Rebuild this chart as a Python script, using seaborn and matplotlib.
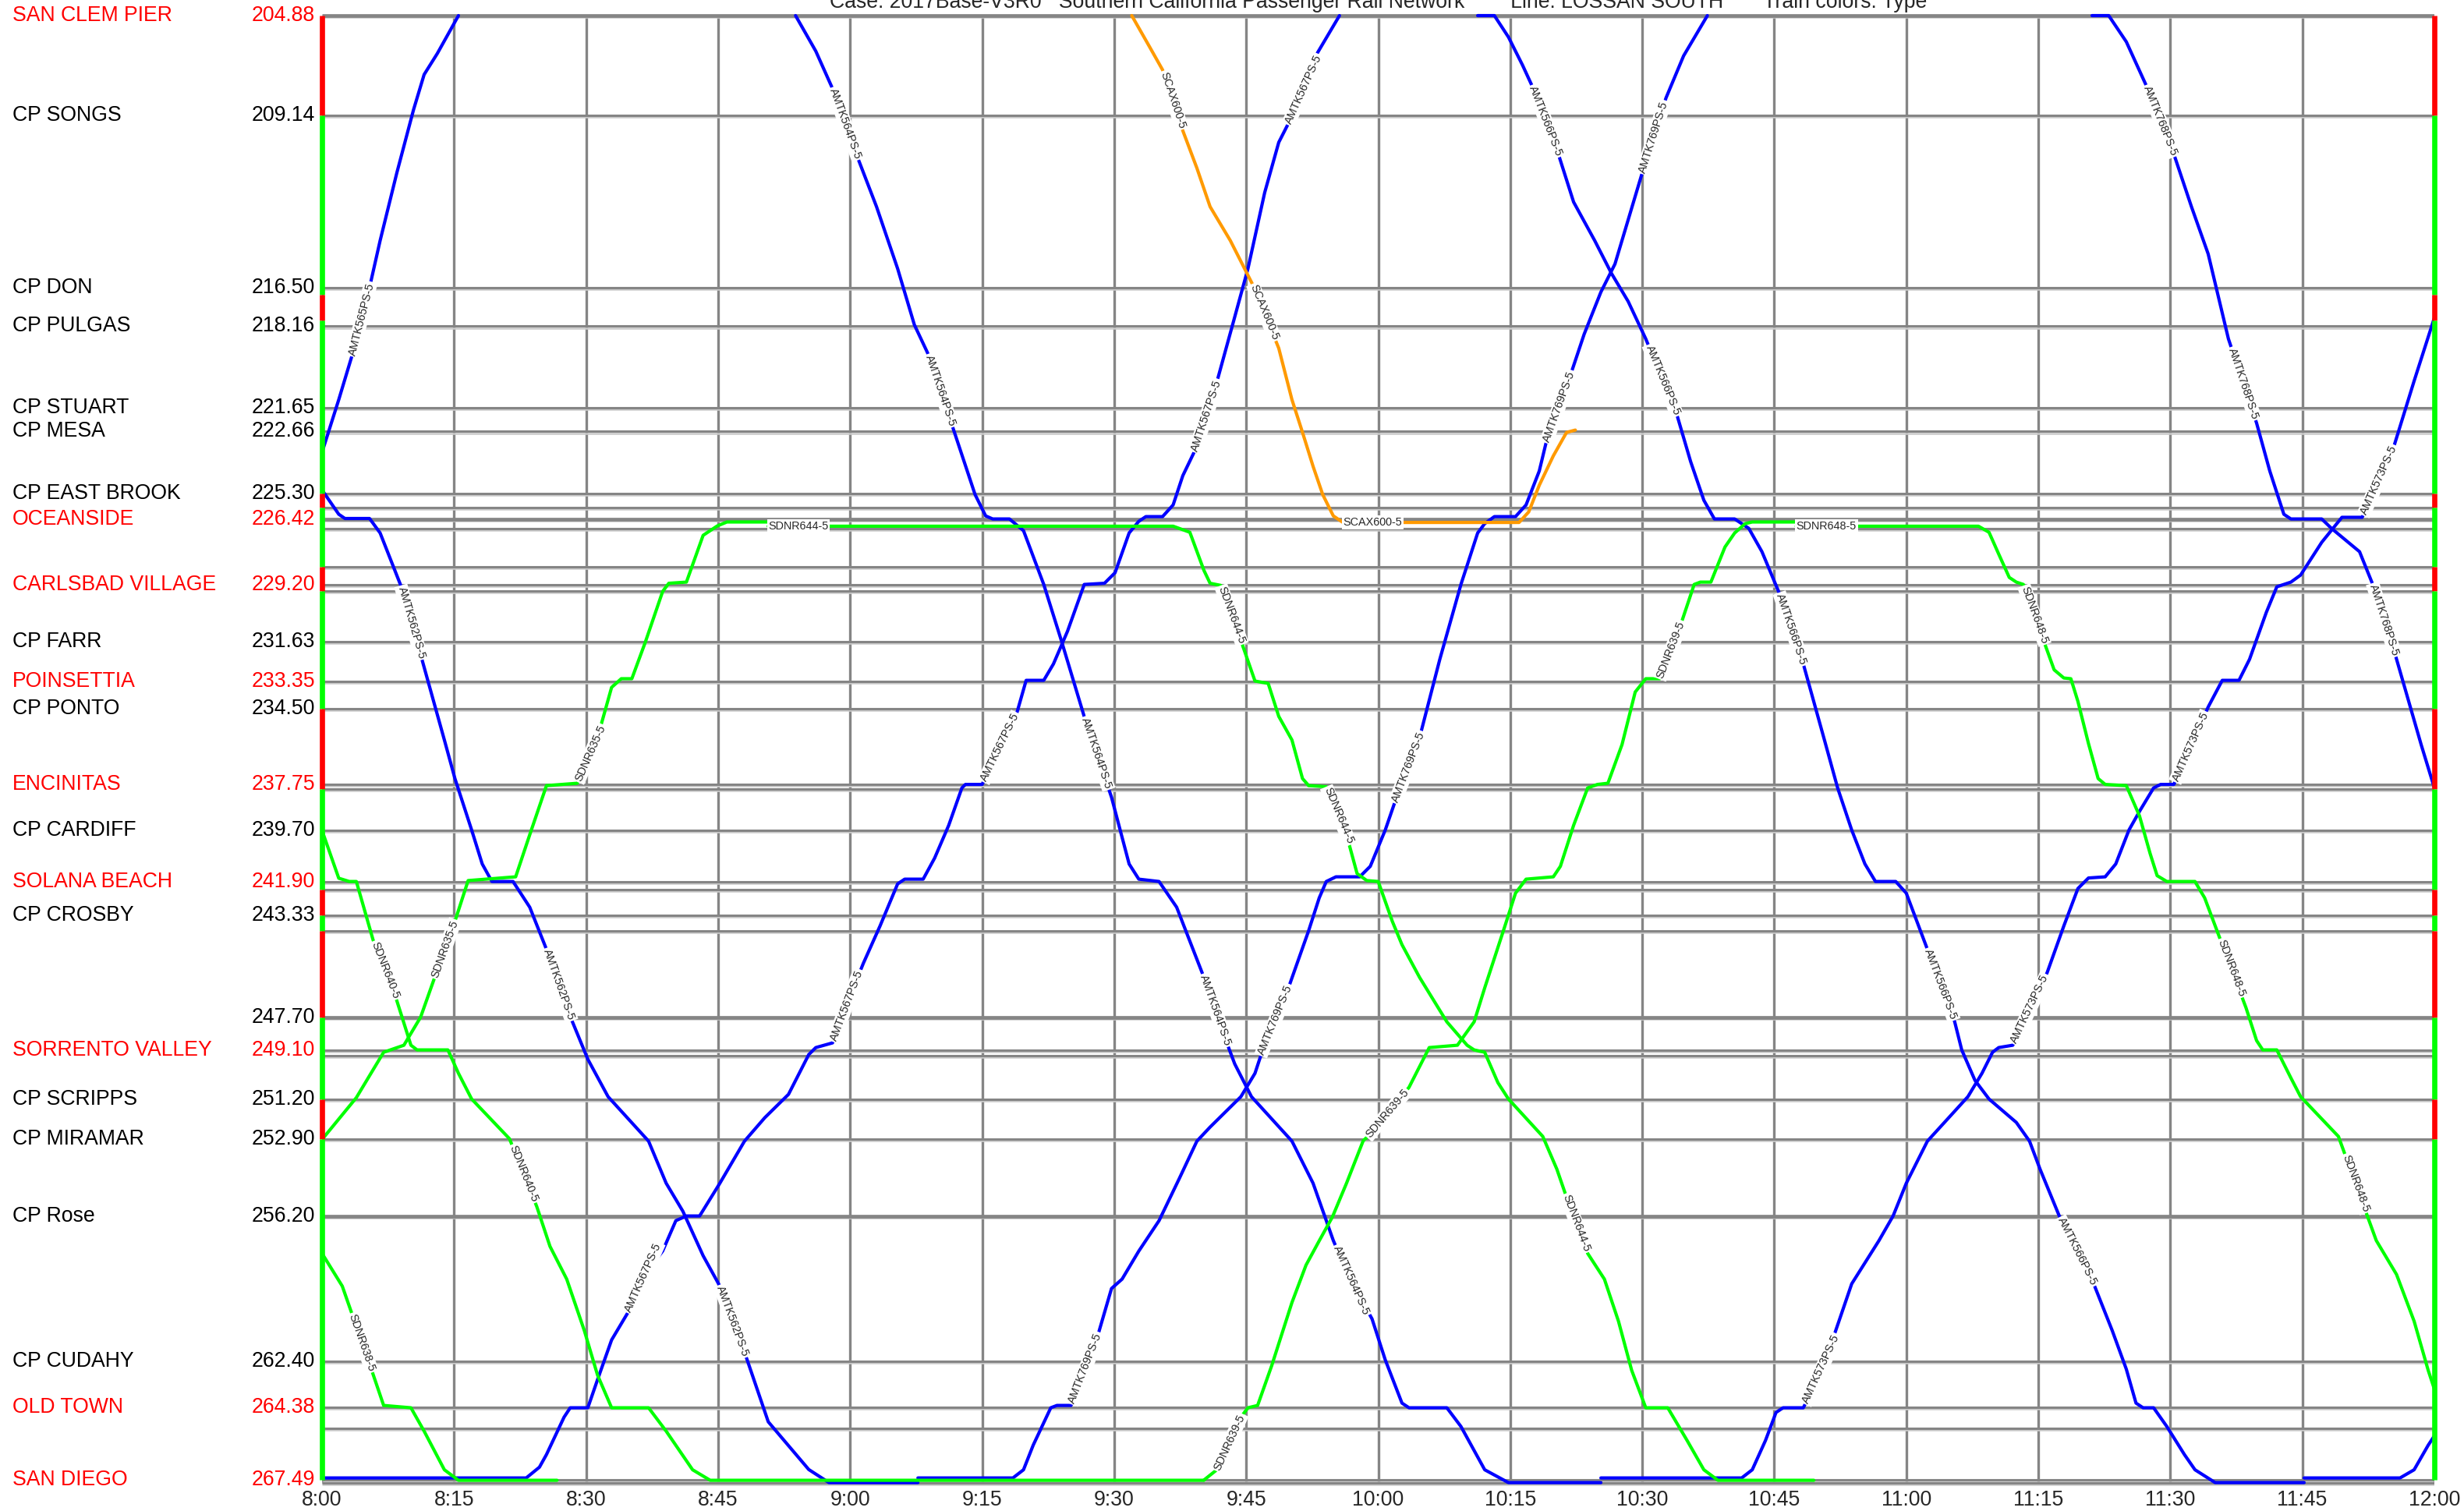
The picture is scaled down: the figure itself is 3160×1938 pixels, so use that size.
import math
import pandas as pd
import matplotlib
matplotlib.use("Agg")
import matplotlib.pyplot as plt
import matplotlib.transforms as mtransforms
import seaborn as sns

# ---------------------------------------------------------------- stations
STATION_NAMES = ["SAN CLEM PIER", "CP SONGS", "CP DON", "CP PULGAS", "CP STUART", "CP MESA",
                 "CP EAST BROOK", "OCEANSIDE", "CARLSBAD VILLAGE", "CP FARR", "POINSETTIA",
                 "CP PONTO", "ENCINITAS", "CP CARDIFF", "SOLANA BEACH", "CP CROSBY", "",
                 "SORRENTO VALLEY", "CP SCRIPPS", "CP MIRAMAR", "CP Rose", "CP CUDAHY",
                 "OLD TOWN", "SAN DIEGO"]
STATION_MP = [204.88, 209.14, 216.50, 218.16, 221.65, 222.66, 225.30, 226.42, 229.20, 231.63,
              233.35, 234.50, 237.75, 239.70, 241.90, 243.33, 247.70, 249.10, 251.20, 252.90,
              256.20, 262.40, 264.38, 267.49]
PASSENGER_STOPS = {"SAN CLEM PIER", "OCEANSIDE", "CARLSBAD VILLAGE", "POINSETTIA", "ENCINITAS",
                   "SOLANA BEACH", "SORRENTO VALLEY", "OLD TOWN", "SAN DIEGO"}
# extra block / siding boundaries drawn as grid lines
BLOCK_MP = [225.90, 226.80, 228.45, 229.48, 237.95, 242.25, 244.00, 249.34, 265.27, 267.60]
HEAVY_MP = [204.88, 226.42, 247.70, 256.20]

# single (red) / double (green) track sections along the line
TRACK_BREAKS = [204.88, 209.14, 216.80, 217.90, 225.30, 225.90, 228.45, 229.48, 234.50,
                237.95, 242.25, 243.33, 244.00, 247.70, 251.20, 252.90, 267.49]
TRACK_KIND = ["single", "double", "single", "double", "single", "double", "single", "double",
              "single", "double", "single", "double", "single", "double", "single", "double"]

# ---------------------------------------------------------------- trains
# times are minutes after 8:00, positions are mileposts
AMTK565_T = [0.0, 1.9, 3.5, 5.4, 6.6, 8.5, 10.4, 11.6, 13.1, 15.5]
AMTK565_MP = [223.55, 221.3, 219.3, 216.5, 214.5, 211.6, 208.9, 207.4, 206.5, 204.88]

AMTK562_T = [0.0, 1.9, 2.6, 5.4, 6.6, 8.9, 11.2, 13.9, 15.1, 17.0, 18.2, 19.3, 21.7, 23.6,
             25.5, 28.2, 30.2, 32.5, 37.1, 39.1, 41.0, 43.3, 45.2, 48.3, 50.7, 55.3, 57.6, 67.7]
AMTK562_MP = [225.16, 226.2, 226.38, 226.38, 227.0, 229.2, 232.2, 235.85, 237.5, 239.7, 241.15,
              241.9, 241.9, 243.0, 244.8, 247.67, 249.5, 251.1, 253.0, 254.8, 256.0, 257.9,
              259.2, 262.35, 265.0, 267.04, 267.6, 267.6]

AMTK567_T = [0.0, 23.2, 24.7, 25.5, 27.5, 28.2, 30.2, 31.3, 32.9, 34.8, 36.7, 38.7, 40.2, 41.4,
             42.9, 45.2, 48.0, 50.3, 53.0, 55.3, 56.1, 58.0, 59.9, 61.5, 63.4, 65.4, 66.2, 68.3,
             69.6, 71.2, 72.7, 73.1, 75.0, 78.9, 80.0, 82.0, 83.1, 84.7, 86.6, 88.9, 90.1, 91.7,
             92.8, 93.6, 95.5, 96.7, 97.8, 99.4, 101.7, 103.6, 105.2, 107.1, 108.7, 111.0,
             112.9, 115.6]
AMTK567_MP = [267.4, 267.4, 266.94, 266.4, 264.8, 264.4, 264.4, 263.2, 261.5, 260.3, 258.7,
              257.7, 256.4, 256.2, 256.2, 254.8, 253.0, 252.0, 251.0, 249.3, 249.0, 248.8,
              246.9, 245.4, 243.8, 242.0, 241.8, 241.8, 240.9, 239.5, 237.9, 237.75, 237.75,
              234.75, 233.3, 233.3, 232.6, 231.2, 229.2, 229.15, 228.7, 227.0, 226.5, 226.3,
              226.3, 225.8, 224.55, 223.3, 220.5, 217.9, 215.7, 212.45, 210.3, 208.6, 206.6,
              204.88]

AMTK564_T = [53.8, 56.1, 58.0, 60.7, 63.0, 65.4, 67.3, 68.8, 71.5, 74.2, 75.4, 76.2, 78.1, 79.7,
             82.0, 84.0, 86.6, 89.7, 91.7, 92.8, 95.1, 97.1, 100.2, 102.9, 103.7, 105.6, 110.2,
             112.6, 114.9, 116.8, 119.3, 120.8, 122.7, 123.5, 127.8, 129.4, 132.1, 134.8, 145.3]
AMTK564_MP = [204.88, 206.4, 208.0, 210.8, 213.05, 215.7, 218.1, 219.3, 222.3, 225.36, 226.27,
              226.4, 226.4, 226.9, 229.2, 231.6, 234.85, 238.3, 241.15, 241.8, 241.9, 243.0,
              246.0, 248.9, 249.7, 251.1, 253.0, 254.8, 257.25, 258.9, 260.6, 262.35, 264.2,
              264.4, 264.4, 265.2, 267.05, 267.6, 267.6]

AMTK769_T = [67.7, 78.5, 79.7, 80.8, 82.8, 83.5, 85.1, 86.2, 87.8, 89.7, 90.9, 92.8, 95.1, 97.4,
             99.4, 100.9, 104.4, 106.0, 106.7, 109.8, 112.1, 113.3, 114.1, 115.2, 117.9, 119.1,
             120.8, 121.9, 124.7, 127.0, 129.4, 131.3, 132.1, 133.2, 135.6, 136.8, 138.3, 139.1,
             141.8, 143.4, 145.3, 146.9, 150.0, 152.7, 154.7, 157.4]
AMTK769_MP = [267.4, 267.4, 267.05, 266.0, 264.4, 264.3, 264.3, 263.2, 261.75, 259.3, 258.9,
              257.7, 256.4, 254.6, 253.0, 252.4, 251.1, 250.1, 249.3, 246.45, 244.0, 242.6,
              241.9, 241.7, 241.7, 241.25, 239.7, 238.5, 235.75, 232.4, 229.2, 227.0, 226.6,
              226.3, 226.3, 225.8, 224.35, 223.1, 220.3, 218.5, 216.7, 215.5, 211.6, 208.4,
              206.6, 204.88]

SCAX600_T = [92.0, 94.0, 95.5, 97.8, 99.4, 100.9, 103.2, 105.9, 108.7, 110.2, 111.4, 112.6,
             113.7, 114.9, 116.0, 136.0, 137.1, 138.3, 139.9, 141.4, 142.4]
SCAX600_MP = [204.88, 206.2, 207.2, 209.8, 211.4, 213.05, 214.5, 216.5, 219.1, 221.3, 222.7,
              224.15, 225.36, 226.27, 226.55, 226.55, 226.1, 224.96, 223.7, 222.7, 222.6]

AMTK566_T = [131.3, 133.2, 134.8, 136.4, 137.5, 140.3, 142.2, 144.6, 146.5, 148.4, 150.4, 153.9,
             155.5, 157.0, 158.2, 160.5, 162.1, 163.6, 165.6, 168.3, 170.7, 172.2, 173.8, 175.3,
             176.5, 178.8, 180.0, 181.6, 185.5, 186.3, 187.8, 189.4, 192.5, 194.0, 195.2, 197.6,
             201.4, 203.4, 205.0, 206.1, 206.9, 208.1, 209.6, 211.6, 212.8, 215.1, 225.2]
AMTK566_MP = [204.88, 204.88, 205.8, 207.0, 207.9, 210.6, 212.85, 214.5, 215.9, 217.1, 218.7,
              221.9, 223.95, 225.6, 226.4, 226.4, 226.8, 227.8, 229.6, 232.6, 235.85, 237.9,
              239.7, 241.15, 241.9, 241.9, 242.4, 244.0, 247.9, 249.1, 250.4, 251.2, 252.2,
              253.0, 254.2, 256.4, 259.2, 261.1, 262.75, 264.2, 264.4, 264.4, 265.2, 266.4,
              267.05, 267.6, 267.6]

AMTK573_T = [145.3, 161.3, 162.5, 164.0, 165.2, 166.0, 168.3, 169.9, 171.8, 173.8, 176.9, 178.5,
             180.0, 182.4, 187.0, 188.6, 189.8, 190.5, 192.1, 196.0, 197.9, 199.5, 200.7, 202.6,
             203.8, 205.3, 206.5, 208.1, 208.9, 210.4, 214.3, 215.9, 217.8, 219.0, 220.9, 222.1,
             223.7, 224.8, 227.2, 228.7, 229.5, 231.8, 235.4, 237.7, 240.0]
AMTK573_MP = [267.4, 267.4, 267.05, 265.8, 264.6, 264.4, 264.4, 263.2, 261.3, 259.1, 257.25,
              256.2, 254.8, 253.0, 251.1, 250.1, 249.2, 249.0, 248.9, 245.8, 243.8, 242.2,
              241.75, 241.7, 241.15, 239.7, 238.9, 237.9, 237.75, 237.75, 234.44, 233.3, 233.3,
              232.4, 230.4, 229.3, 229.1, 228.8, 227.4, 226.7, 226.33, 226.33, 223.3, 220.5,
              217.8]

AMTK768_T = [201.1, 203.0, 205.0, 207.3, 210.4, 212.4, 214.3, 216.6, 219.8, 221.3, 222.9, 223.7,
             227.2, 228.3, 231.5, 233.0, 235.4, 238.5, 240.0]
AMTK768_MP = [204.88, 204.88, 206.0, 207.9, 210.8, 213.05, 215.07, 218.7, 222.3, 224.35, 226.2,
              226.4, 226.4, 226.8, 227.8, 229.2, 232.0, 236.05, 237.9]

AMTK1156_T = [225.2, 236.1, 237.7, 239.3, 240.0]
AMTK1156_MP = [267.4, 267.4, 267.05, 266.0, 265.6]

SDNR640_T = [0.0, 1.9, 3.1, 3.9, 5.8, 8.5, 10.1, 10.8, 14.3, 15.5, 17.0, 21.3, 24.4, 25.9, 27.8,
             29.8, 31.3, 32.9, 37.1, 39.1, 42.1, 44.1, 100.2]
SDNR640_MP = [239.72, 241.76, 241.9, 241.9, 244.4, 247.0, 248.9, 249.1, 249.1, 250.1, 251.2,
              252.9, 255.8, 257.5, 258.9, 261.1, 263.0, 264.4, 264.4, 265.4, 267.05, 267.5, 267.5]

SDNR638_T = [0.0, 2.3, 5.8, 7.0, 10.1, 11.6, 13.9, 15.5, 26.7]
SDNR638_MP = [257.8, 259.2, 262.97, 264.3, 264.4, 265.4, 267.05, 267.5, 267.5]

SDNR635_T = [0.0, 3.9, 7.0, 9.3, 11.2, 12.8, 15.1, 16.6, 22.0, 23.6, 25.5, 29.0, 31.3, 32.9,
             34.0, 35.2, 36.7, 38.7, 39.4, 41.4, 43.3, 44.9, 46.0, 50.7]
SDNR635_MP = [252.93, 251.14, 249.2, 248.9, 247.7, 246.0, 243.6, 241.86, 241.7, 239.9, 237.8,
              237.7, 235.75, 233.6, 233.23, 233.23, 231.7, 229.5, 229.15, 229.1, 227.1, 226.7,
              226.53, 226.53]

SDNR644_T = [50.7, 96.7, 98.6, 100.2, 100.9, 102.1, 104.4, 106.0, 107.5, 108.7, 110.2, 111.4,
             112.1, 114.1, 116.4, 117.6, 118.7, 120.0, 121.6, 122.7, 124.7, 127.8, 130.1, 130.9,
             132.1, 133.6, 134.8, 138.7, 140.3, 141.4, 143.8, 145.7, 147.3, 148.8, 150.4, 152.9,
             155.1, 157.0, 158.6, 169.5]
SDNR644_MP = [226.71, 226.71, 226.97, 228.6, 229.15, 229.24, 231.6, 233.33, 233.43, 234.84,
              235.85, 237.5, 237.8, 237.85, 239.9, 241.56, 241.86, 241.9, 243.6, 244.6, 246.0,
              247.9, 248.9, 249.1, 249.2, 250.5, 251.2, 252.8, 254.2, 255.4, 257.8, 258.9,
              260.7, 262.8, 264.4, 264.4, 265.8, 267.05, 267.5, 267.5]

SDNR639_T = [100.2, 101.7, 104.4, 105.2, 106.3, 107.9, 110.2, 111.8, 113.3, 114.8, 116.4, 118.3,
             119.5, 123.5, 125.8, 129.0, 130.9, 132.1, 134.4, 135.6, 136.8, 139.9, 140.7, 142.2,
             143.8, 144.9, 146.1, 147.7, 149.2, 150.4, 152.0, 154.3, 155.9, 156.6, 157.8, 159.4,
             160.5, 161.7, 162.5, 167.5]
SDNR639_MP = [267.49, 267.04, 264.8, 264.4, 264.3, 262.6, 259.9, 258.3, 257.26, 256.24, 254.8,
              252.98, 252.57, 250.7, 249.0, 248.9, 247.9, 246.45, 243.8, 242.4, 241.8, 241.7,
              241.25, 239.5, 237.9, 237.75, 237.7, 236.05, 233.8, 233.23, 233.23, 231.0, 229.2,
              229.1, 229.1, 227.6, 227.0, 226.6, 226.53, 226.53]

SDNR648_T = [167.5, 188.2, 189.4, 190.5, 191.7, 192.5, 193.3, 195.6, 196.8, 197.9, 198.7, 199.5,
             200.7, 201.8, 202.6, 205.0, 206.5, 207.7, 208.5, 209.6, 212.8, 213.9, 215.5, 218.6,
             219.8, 220.5, 222.1, 223.7, 224.8, 229.1, 233.4, 235.7, 237.7, 239.3, 240.0]
SDNR648_MP = [226.71, 226.71, 226.97, 227.9, 228.9, 229.1, 229.2, 231.6, 232.85, 233.2, 233.23,
              234.2, 236.0, 237.5, 237.75, 237.8, 239.1, 240.7, 241.65, 241.9, 241.9, 242.6,
              244.2, 247.3, 248.7, 249.1, 249.1, 250.3, 251.1, 252.8, 257.25, 258.7, 260.7,
              262.8, 263.6]

TRAINS = [
    ("AMTK565PS-5", "AMTK", AMTK565_T, AMTK565_MP),
    ("AMTK562PS-5", "AMTK", AMTK562_T, AMTK562_MP),
    ("AMTK567PS-5", "AMTK", AMTK567_T, AMTK567_MP),
    ("AMTK564PS-5", "AMTK", AMTK564_T, AMTK564_MP),
    ("AMTK769PS-5", "AMTK", AMTK769_T, AMTK769_MP),
    ("AMTK566PS-5", "AMTK", AMTK566_T, AMTK566_MP),
    ("AMTK573PS-5", "AMTK", AMTK573_T, AMTK573_MP),
    ("AMTK768PS-5", "AMTK", AMTK768_T, AMTK768_MP),
    ("AMTK-1156", "AMTK", AMTK1156_T, AMTK1156_MP),
    ("SCAX600-5", "SCAX", SCAX600_T, SCAX600_MP),
    ("SDNR640-5", "SDNR", SDNR640_T, SDNR640_MP),
    ("SDNR638-5", "SDNR", SDNR638_T, SDNR638_MP),
    ("SDNR635-5", "SDNR", SDNR635_T, SDNR635_MP),
    ("SDNR644-5", "SDNR", SDNR644_T, SDNR644_MP),
    ("SDNR639-5", "SDNR", SDNR639_T, SDNR639_MP),
    ("SDNR648-5", "SDNR", SDNR648_T, SDNR648_MP),
]

# mileposts where a train's name is written along its path
LABEL_AT = {
    "AMTK565PS-5": [219.4],
    "AMTK562PS-5": [229.3, 244.8, 259.2],
    "AMTK564PS-5": [208.0, 219.4, 234.9, 245.9, 257.5],
    "AMTK567PS-5": [260.3, 248.7, 237.6, 223.5, 209.5],
    "AMTK769PS-5": [264.2, 249.3, 238.5, 223.1, 211.6],
    "AMTK566PS-5": [207.9, 219.0, 229.6, 244.8, 256.3],
    "AMTK573PS-5": [264.2, 248.8, 237.6, 226.2],
    "AMTK768PS-5": [207.9, 219.1, 229.2],
    "SCAX600-5": [207.3, 216.4],
    "SDNR640-5": [244.5, 253.2],
    "SDNR638-5": [260.4],
    "SDNR635-5": [246.0, 237.6],
    "SDNR644-5": [229.3, 237.9, 255.3],
    "SDNR639-5": [267.05, 252.8, 233.2],
    "SDNR648-5": [229.3, 244.4, 253.6],
}
# trains whose name is also written along their longest stand
DWELL_LABEL = {"SCAX600-5", "SDNR644-5", "SDNR648-5"}

PALETTE = {"AMTK": "#0000ff", "SDNR": "#00ff00", "SCAX": "#ff9a00"}
TRACK_COLORS = {"single": "#ff0000", "double": "#00ff00"}

# ---------------------------------------------------------------- figure
sns.set_style("white")
plt.rcParams["font.family"] = ["Liberation Sans", "DejaVu Sans"]

W_PX, H_PX, DPI = 3160, 1938, 200
fig = plt.figure(figsize=(W_PX / DPI, H_PX / DPI), dpi=DPI)
fig.patch.set_facecolor("white")

X0_PX, X1_PX = 413, 3122
TOP_PX, PX_PER_MILE = 20.0, 30.0
MP_FIRST, MP_LAST = STATION_MP[0], STATION_MP[-1]
MP_TOP, MP_BOT = 204.38, 267.99
CAPTION_SIZE = 9.6


def ypx(mp):
    return TOP_PX + (mp - MP_FIRST) * PX_PER_MILE


ax = fig.add_axes([X0_PX / W_PX, 1 - ypx(MP_BOT) / H_PX, (X1_PX - X0_PX) / W_PX,
                   (ypx(MP_BOT) - ypx(MP_TOP)) / H_PX])

T_END = 240
GRID_DARK, GRID_LIGHT = "#858585", "#cacaca"

# grid: quarter-hour verticals
for t in range(0, T_END + 1, 15):
    ax.plot([t, t], [MP_FIRST, 267.62], color=GRID_DARK, lw=1.2, zorder=1,
            solid_capstyle="butt")

# grid: station and block lines
for mp in sorted(set(STATION_MP + BLOCK_MP)):
    heavy = mp in HEAVY_MP
    ax.plot([0, T_END], [mp + 0.075, mp + 0.075], color=GRID_LIGHT, lw=0.9, zorder=1,
            solid_capstyle="butt")
    ax.plot([0, T_END], [mp, mp], color=GRID_DARK, lw=1.7 if heavy else 1.1, zorder=1.1,
            solid_capstyle="butt")

# train paths
rows = []
for name, kind, ts, mps in TRAINS:
    for k, (tt, mm) in enumerate(zip(ts, mps)):
        rows.append((name, kind, k, tt, mm))
df = pd.DataFrame(rows, columns=["train", "kind", "seq", "minutes", "milepost"])
sns.lineplot(data=df, x="minutes", y="milepost", units="train", hue="kind",
             estimator=None, sort=False, palette=PALETTE, linewidth=1.5, legend=False,
             ax=ax, zorder=3, solid_joinstyle="round", solid_capstyle="round")

ax.set_xlim(0, T_END)
ax.set_ylim(MP_BOT, MP_TOP)
ax.axis("off")

# track-type bars on both frame edges
for a, b, kind in zip(TRACK_BREAKS[:-1], TRACK_BREAKS[1:], TRACK_KIND):
    for x in (0, T_END):
        ax.plot([x, x], [a, b], color=TRACK_COLORS[kind], lw=2.4, zorder=6,
                solid_capstyle="butt", clip_on=False)

# station captions
yl = mtransforms.blended_transform_factory(fig.transFigure, ax.transData)
for name, mp in zip(STATION_NAMES, STATION_MP):
    col = "#ff0000" if name in PASSENGER_STOPS else "black"
    ax.text(16 / W_PX, mp, name, transform=yl, ha="left", va="center",
            fontsize=CAPTION_SIZE, color=col)
    ax.text(404 / W_PX, mp, f"{mp:.2f}", transform=yl, ha="right", va="center",
            fontsize=CAPTION_SIZE, color=col)

# time captions
xl = mtransforms.blended_transform_factory(ax.transData, fig.transFigure)
for t in range(0, T_END + 1, 15):
    ax.text(t, 1 - 1937 / H_PX, f"{8 + t // 60}:{t % 60:02d}", transform=xl, ha="center",
            va="bottom", fontsize=CAPTION_SIZE)

fig.text((X0_PX + X1_PX) / 2 / W_PX, 1 - 10 / H_PX,
         "Case: 2017Base-V3R0   Southern California Passenger Rail Network"
         "        Line: LOSSAN SOUTH       Train colors: Type",
         ha="center", va="baseline", fontsize=CAPTION_SIZE)


# train names along the paths
def point_on_path(ts, mps, target, start=0):
    for i in range(start, len(ts) - 1):
        a, b = mps[i], mps[i + 1]
        if a != b and min(a, b) <= target <= max(a, b):
            f = (target - a) / (b - a)
            return ts[i] + f * (ts[i + 1] - ts[i]), i
    return None, None


LABEL_BOX = dict(boxstyle="square,pad=0.12", fc="white", ec="none")
for name, kind, ts, mps in TRAINS:
    heading = 1.0 if mps[-1] > mps[0] else -1.0
    for target in LABEL_AT.get(name, []):
        t0, i = point_on_path(ts, mps, target)
        if t0 is None:
            continue
        # direction of the path over the next ~1.5 miles of travel
        t1, _ = point_on_path(ts, mps, target + 1.5 * heading, i)
        if t1 is None:
            t1, m1 = ts[i + 1], mps[i + 1]
        else:
            m1 = target + 1.5 * heading
        p0 = ax.transData.transform((t0, target))
        p1 = ax.transData.transform((t1, m1))
        ang = math.degrees(math.atan2(p1[1] - p0[1], p1[0] - p0[0]))
        ax.text(t0, target, name, rotation=ang, rotation_mode="anchor", ha="left",
                va="center", fontsize=5.2, bbox=LABEL_BOX, zorder=5)
    if name in DWELL_LABEL:
        best = max(range(len(ts) - 1),
                   key=lambda j: (ts[j + 1] - ts[j]) if mps[j] == mps[j + 1] else -1)
        ax.text(ts[best], mps[best], name, ha="left", va="center", fontsize=5.2,
                bbox=LABEL_BOX, zorder=5)

fig.savefig("out.png", dpi=DPI, facecolor="white")
